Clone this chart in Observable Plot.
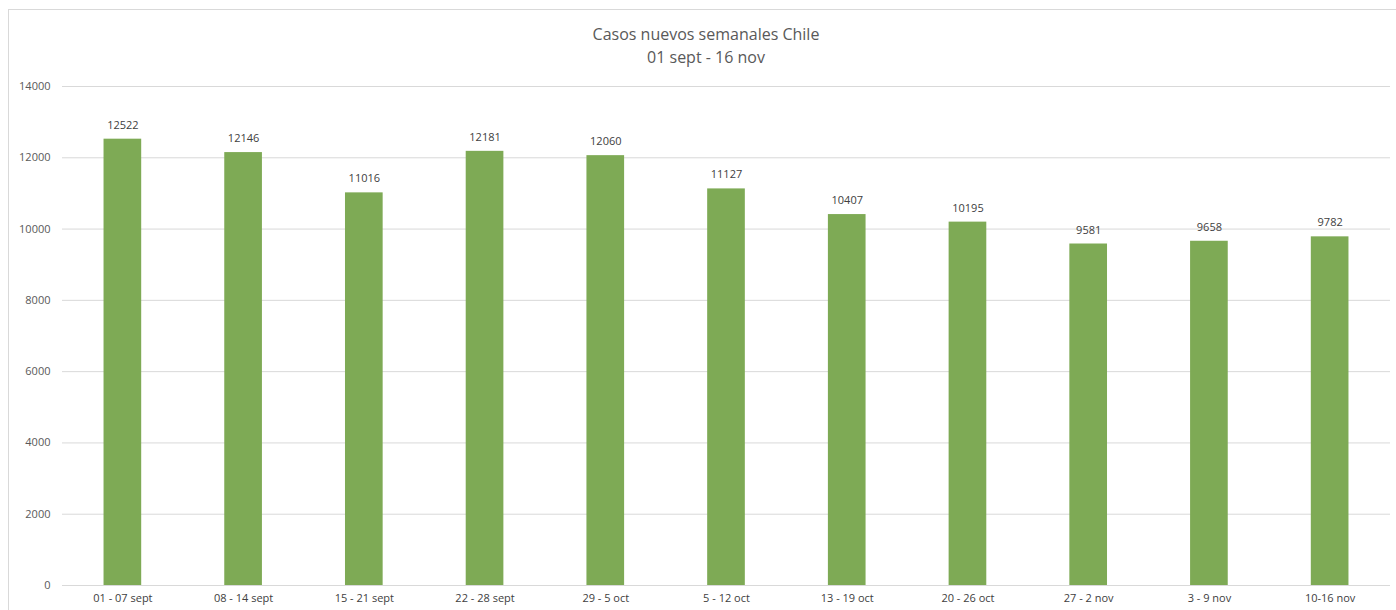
<!DOCTYPE html>
<html><head><meta charset="utf-8">
<script src="https://cdn.jsdelivr.net/npm/d3@7"></script>
<script src="https://cdn.jsdelivr.net/npm/@observablehq/plot@0.6"></script>
<style>
body{margin:0;background:#fff;font-family:"Open Sans",sans-serif;}
#wrap{position:relative;width:1396px;height:610px;overflow:hidden;}
#frame{position:absolute;left:8px;top:9px;width:1400px;height:620px;border-left:1px solid #d9d9d9;border-top:1px solid #d9d9d9;}
#title{position:absolute;left:0;top:23px;width:1412px;text-align:center;font-size:16px;line-height:23px;color:#595959;}
#chart{position:absolute;left:0;top:70px;}
</style></head>
<body><div id="wrap"><div id="frame"></div>
<div id="title">Casos nuevos semanales Chile<br>01 sept - 16 nov</div>
<div id="chart"></div></div>
<script>
const weeks = ["01 - 07 sept","08 - 14 sept","15 - 21 sept","22 - 28 sept","29 - 5 oct","5 - 12 oct","13 - 19 oct","20 - 26 oct","27 - 2 nov","3 - 9 nov","10-16 nov"];
const cases = [12522,12146,11016,12181,12060,11127,10407,10195,9581,9658,9782];
const yTicks = [0,2000,4000,6000,8000,10000,12000,14000];
const data = weeks.map((w,i)=>({week:w, value:cases[i]}));
const chart = Plot.plot({
  width:1396, height:540,
  marginLeft:62, marginRight:6, marginTop:16, marginBottom:25,
  style:{fontFamily:"Open Sans, sans-serif", fontSize:"11px", color:"#404040", background:"transparent"},
  x:{domain:weeks, paddingInner:0.688, paddingOuter:0.344, round:false, label:null, tickSize:0, tickPadding:9},
  y:{domain:[0,14000], ticks:yTicks, label:null, tickSize:0, tickPadding:12},
  marks:[
    Plot.ruleY(yTicks,{stroke:"#d9d9d9", strokeWidth:1}),
    Plot.barY(data,{x:"week", y:"value", fill:"#7eaa55"}),
    Plot.text(data,{x:"week", y:"value", text:d=>String(d.value), dy:-14, fill:"#404040", fontSize:11}),
    Plot.axisY({ticks:yTicks, tickSize:0, tickPadding:12, tickFormat:d=>String(d), fill:"#595959"}),
    Plot.axisX({tickSize:0, tickPadding:9, fill:"#404040"})
  ]
});
document.getElementById("chart").appendChild(chart);
</script></body></html>
